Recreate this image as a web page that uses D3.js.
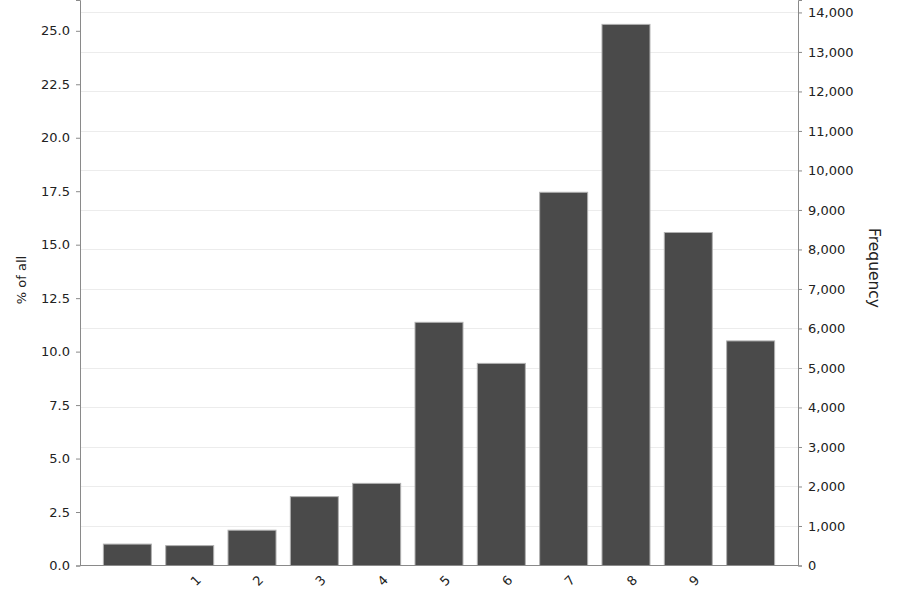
<!DOCTYPE html>
<html>
<head>
<meta charset="utf-8">
<script src="https://cdn.jsdelivr.net/npm/d3@7"></script>
<style>
  html, body { margin: 0; padding: 0; background: #fff; }
  svg { display: block; font-family: "DejaVu Sans", Verdana, sans-serif; }
</style>
</head>
<body>
<svg id="chart" width="900" height="600"></svg>
<script>
// ---- data ----
const categories = ["0", "1", "2", "3", "4", "5", "6", "7", "8", "9", "10"];
const tickLabels = ["", "1", "2", "3", "4", "5", "6", "7", "8", "9", ""];
const percentValues = [1.00, 0.93, 1.65, 3.22, 3.84, 11.37, 9.45, 17.45, 25.30, 15.57, 10.50];
const totalCount = 54140;           // frequency corresponding to 100 %
const percentTicks = [0, 2.5, 5, 7.5, 10, 12.5, 15, 17.5, 20, 22.5, 25];
const freqTicks = [0, 1000, 2000, 3000, 4000, 5000, 6000, 7000, 8000, 9000, 10000, 11000, 12000, 13000, 14000];
const leftTitle = "% of all";
const rightTitle = "Frequency";

// ---- layout ----
const svg = d3.select("#chart");
const m = { left: 80, right: 102, top: 0, bottom: 34.5 };
const W = 900, H = 600;
const x0 = m.left, x1 = W - m.right, y0 = H - m.bottom, y1 = m.top;
const font = '"DejaVu Sans", Verdana, sans-serif';

const pctMax = 26.44;
const x = d3.scaleBand().domain(categories).range([x0, x1]).paddingInner(0.23).paddingOuter(0.375);
const yP = d3.scaleLinear().domain([0, pctMax]).range([y0, y1]);
const yF = d3.scaleLinear().domain([0, pctMax * totalCount / 100]).range([y0, y1]);

const axisColor = "#8a8a8a";

// gridlines (at frequency ticks)
svg.append("g").selectAll("line").data(freqTicks.filter(d => d > 0)).join("line")
  .attr("x1", x0).attr("x2", x1)
  .attr("y1", d => Math.round(yF(d)) + 0.5).attr("y2", d => Math.round(yF(d)) + 0.5)
  .attr("stroke", "#ececec").attr("stroke-width", 1);

// bars
svg.append("g").selectAll("rect").data(percentValues).join("rect")
  .attr("x", (d, i) => x(categories[i]))
  .attr("width", x.bandwidth())
  .attr("y", d => yP(d))
  .attr("height", d => y0 - yP(d))
  .attr("fill", "#4a4a4a")
  .attr("stroke", "#b0b0b0")
  .attr("stroke-width", 1);

// left axis
const gL = svg.append("g").attr("transform", `translate(${x0},0)`)
  .call(d3.axisLeft(yP).tickValues(percentTicks).tickFormat(d3.format(".1f")).tickSize(4).tickPadding(6));
// right axis
const gR = svg.append("g").attr("transform", `translate(${x1},0)`)
  .call(d3.axisRight(yF).tickValues(freqTicks).tickFormat(d3.format(",")).tickSize(4).tickPadding(6));
[gL, gR].forEach(g => {
  g.select(".domain").attr("stroke", axisColor);
  g.selectAll(".tick line").attr("stroke", axisColor);
  g.selectAll(".tick text").attr("fill", "#222").style("font-size", "13px")
    .style("font-family", font);
});

// bottom axis line
svg.append("line").attr("x1", x0).attr("x2", x1)
  .attr("y1", y0).attr("y2", y0).attr("stroke", axisColor).attr("stroke-width", 1);

// x tick labels (rotated)
svg.append("g").selectAll("text").data(categories).join("text")
  .attr("transform", (d, i) => `translate(${x(d) + x.bandwidth() / 2 + 6},${y0 + 15}) rotate(-45)`)
  .attr("text-anchor", "middle")
  .attr("dy", "0.35em")
  .attr("fill", "#222")
  .style("font-size", "13px")
  .text((d, i) => tickLabels[i]);

// axis titles
svg.append("text")
  .attr("transform", `translate(21,280) rotate(-90)`)
  .attr("text-anchor", "middle").attr("dy", "0.35em")
  .attr("fill", "#222").style("font-size", "13px")
  .text(leftTitle);
svg.append("text")
  .attr("transform", `translate(874,268) rotate(90)`)
  .attr("text-anchor", "middle").attr("dy", "0.35em")
  .attr("fill", "#222").style("font-size", "15.5px")
  .text(rightTitle);
</script>
</body>
</html>
